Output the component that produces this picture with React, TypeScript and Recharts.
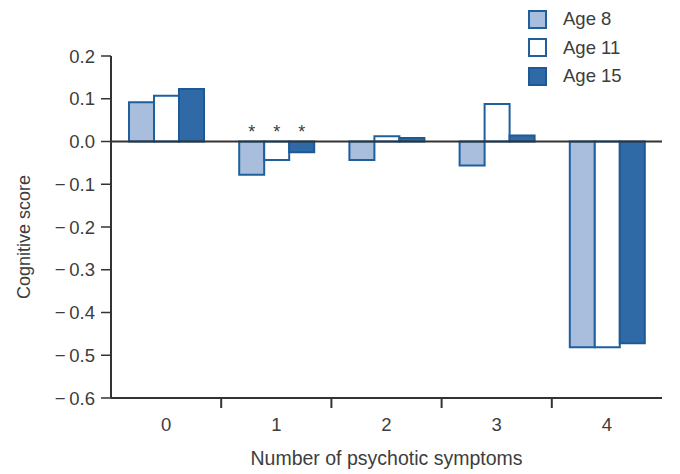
import React from 'react';
import {
  BarChart,
  Bar,
  XAxis,
  YAxis,
  Legend,
  LabelList,
  ReferenceLine,
} from 'recharts';

// Données
const categories = ['0', '1', '2', '3', '4'];
const age8 = [0.092, -0.078, -0.043, -0.056, -0.481];
const age11 = [0.107, -0.043, 0.012, 0.088, -0.481];
const age15 = [0.123, -0.025, 0.008, 0.014, -0.472];
const significant = [false, true, false, false, false];
const yTicks = [0.2, 0.1, 0, -0.1, -0.2, -0.3, -0.4, -0.5, -0.6];

const series = [
  { key: 'age8', name: 'Age 8', fill: '#a9bedc', stroke: '#1f5f9d' },
  { key: 'age11', name: 'Age 11', fill: '#ffffff', stroke: '#1f5f9d' },
  { key: 'age15', name: 'Age 15', fill: '#2f6aa6', stroke: '#1d5a95' },
];

const FONT = '"Liberation Sans", Arial, sans-serif';
const TEXT = '#3d3d3d';
const AXIS = '#333333';
const PLOT_LEFT = 111;
const PLOT_RIGHT = 662;

const data = categories.map((name, i) => ({
  name,
  age8: age8[i],
  age11: age11[i],
  age15: age15[i],
  sig: significant[i] ? '*' : '',
}));

const formatY = (v: number) => {
  const s = Math.abs(v).toFixed(1);
  return v < -1e-9 ? `\u2212\u2009${s}` : s;
};

function CategoryTick(props: any) {
  const { x, y, payload, index } = props;
  const band = (PLOT_RIGHT - PLOT_LEFT) / categories.length;
  return (
    <g>
      {index < categories.length - 1 && (
        <line
          x1={x + band / 2}
          x2={x + band / 2}
          y1={y}
          y2={y + 10}
          stroke={AXIS}
          strokeWidth={2}
        />
      )}
      <text
        x={x}
        y={y + 32.5}
        textAnchor="middle"
        fill={TEXT}
        fontSize={18.5}
        fontFamily={FONT}
      >
        {payload.value}
      </text>
    </g>
  );
}

function Asterisk(props: any) {
  const { x, y, width, height, value } = props;
  if (!value) return null;
  const top = Math.min(y, y + height);
  return (
    <text
      x={x + width / 2}
      y={top - 4}
      textAnchor="middle"
      fill={TEXT}
      fontSize={18}
      fontFamily={FONT}
    >
      {value}
    </text>
  );
}

function YLabel(props: any) {
  const { viewBox } = props;
  const cx = viewBox.x + 24;
  const cy = viewBox.y + viewBox.height / 2 + 10;
  return (
    <text
      x={cx}
      y={cy}
      transform={`rotate(-90, ${cx}, ${cy})`}
      textAnchor="middle"
      dominantBaseline="central"
      fill={TEXT}
      fontSize={18}
      fontFamily={FONT}
    >
      Cognitive score
    </text>
  );
}

function renderLegend() {
  return (
    <div style={{ fontFamily: FONT, fontSize: 18.5, color: TEXT }}>
      {series.map((s) => (
        <div
          key={s.key}
          style={{ display: 'flex', alignItems: 'center', height: 28.5 }}
        >
          <span
            style={{
              display: 'inline-block',
              width: 15,
              height: 15,
              background: s.fill,
              border: `2px solid ${s.stroke}`,
              marginRight: 16,
            }}
          />
          <span>{s.name}</span>
        </div>
      ))}
    </div>
  );
}

export default function App() {
  return (
    <div style={{ position: 'absolute', left: 0, top: 0 }}>
      <BarChart
        width={680}
        height={474}
        data={data}
        margin={{ top: 56, right: 680 - PLOT_RIGHT, bottom: 0, left: 0 }}
        barGap={0}
        barSize={25}
      >
        <XAxis
          dataKey="name"
          height={76}
          tickSize={0}
          tickMargin={0}
          tickLine={false}
          axisLine={{ stroke: AXIS, strokeWidth: 2 }}
          tick={<CategoryTick />}
          label={{
            value: 'Number of psychotic symptoms',
            position: 'insideBottom',
            offset: 9,
            fill: TEXT,
            fontSize: 19.5,
            fontFamily: FONT,
          }}
        />
        <YAxis
          width={PLOT_LEFT}
          domain={[-0.6, 0.2]}
          ticks={yTicks}
          interval={0}
          allowDataOverflow
          tickFormatter={formatY}
          tickSize={10}
          tickMargin={6}
          axisLine={{ stroke: AXIS, strokeWidth: 2 }}
          tickLine={{ stroke: AXIS, strokeWidth: 1.5 }}
          tick={{ fill: TEXT, fontSize: 18.5, fontFamily: FONT }}
          label={<YLabel />}
        />
        <ReferenceLine y={0} stroke={AXIS} strokeWidth={2} />
        {series.map((s) => (
          <Bar
            key={s.key}
            dataKey={s.key}
            name={s.name}
            fill={s.fill}
            stroke={s.stroke}
            strokeWidth={2}
            isAnimationActive={false}
          >
            <LabelList dataKey="sig" content={<Asterisk />} />
          </Bar>
        ))}
        <Legend
          layout="vertical"
          align="center"
          verticalAlign="middle"
          wrapperStyle={{ position: 'absolute', top: 5, left: 528, width: 130 }}
          content={renderLegend}
        />
      </BarChart>
    </div>
  );
}
